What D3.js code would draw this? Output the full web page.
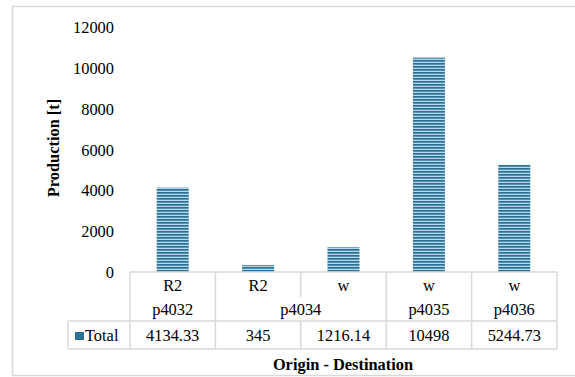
<!DOCTYPE html>
<html>
<head>
<meta charset="utf-8">
<script src="https://cdn.jsdelivr.net/npm/d3@7"></script>
<style>
  html, body { margin: 0; padding: 0; background: #fff; }
  svg { display: block; }
  svg text { font-family: "Liberation Serif", "Times New Roman", "DejaVu Serif", serif; }
</style>
</head>
<body>
<svg id="chart" width="575" height="377"></svg>
<script>
// Production by origin–destination pair
const innerLabels = ["R2", "R2", "w", "w", "w"];
const outerLabels = ["p4032", "p4034", "p4035", "p4036"];
const outerSpans = [1, 2, 1, 1];
const values = [4134.33, 345, 1216.14, 10498, 5244.73];
const seriesName = "Total";
const yTicks = [0, 2000, 4000, 6000, 8000, 10000, 12000];

const svg = d3.select("#chart");
const W = 575, H = 377;
const gridColor = "#d9d9d9";
const fontSize = 16.4;
const serif = "Liberation Serif, Times New Roman, serif";

// outer chart frame
svg.append("rect")
  .attr("x", 12.5).attr("y", 6.5)
  .attr("width", W + 10).attr("height", 369)
  .attr("fill", "#fff").attr("stroke", gridColor).attr("stroke-width", 1.5);

// striped fill for the bars
const defs = svg.append("defs");
const pat = defs.append("pattern")
  .attr("id", "stripes").attr("patternUnits", "userSpaceOnUse")
  .attr("width", 8).attr("height", 3);
pat.append("rect").attr("width", 8).attr("height", 3).attr("fill", "#b2d9ea");
pat.append("rect").attr("y", 0).attr("width", 8).attr("height", 1.7).attr("fill", "#2c7095");

const plotLeft = 130, plotRight = 557;
const baseY = 272, topY = 27;

const x = d3.scaleBand()
  .domain(d3.range(values.length))
  .range([plotLeft, plotRight])
  .paddingInner(0).paddingOuter(0);

const y = d3.scaleLinear().domain([0, 12000]).range([baseY, topY]);

// y axis labels (no axis line, no ticks)
const yAxis = d3.axisLeft(y).tickValues(yTicks).tickSize(0).tickPadding(0).tickFormat(d3.format("d"));
const yg = svg.append("g").attr("transform", "translate(114,0)").call(yAxis)
  .attr("font-family", serif).attr("font-size", fontSize);
yg.select(".domain").remove();
yg.selectAll("text").attr("fill", "#000").attr("dy", null).attr("dominant-baseline", "central");

// y axis title
svg.append("text")
  .attr("transform", "translate(53,148) rotate(-90)")
  .attr("text-anchor", "middle").attr("dominant-baseline", "central")
  .attr("font-family", serif)
  .attr("font-weight", "bold").attr("font-size", fontSize)
  .text("Production [t]");

// bars
const barW = x.bandwidth() * 0.375;
svg.append("g").selectAll("rect")
  .data(values)
  .join("rect")
  .attr("x", (d, i) => x(i) + (x.bandwidth() - barW) / 2)
  .attr("y", d => y(d))
  .attr("width", barW)
  .attr("height", d => y(0) - y(d))
  .attr("fill", "url(#stripes)");

// data table beneath the plot
const row1Y = 285, row2Y = 309, row3Y = 335;
const tableBottom = 349, valueTop = 321, legendLeft = 68;
const lines = svg.append("g").attr("stroke", gridColor).attr("stroke-width", 1.5).attr("fill", "none");

// baseline / table top
lines.append("line").attr("x1", plotLeft).attr("x2", plotRight).attr("y1", baseY).attr("y2", baseY);
lines.append("line").attr("x1", legendLeft).attr("x2", plotRight).attr("y1", valueTop).attr("y2", valueTop);
lines.append("line").attr("x1", legendLeft).attr("x2", plotRight).attr("y1", tableBottom).attr("y2", tableBottom);
lines.append("line").attr("x1", legendLeft).attr("x2", legendLeft).attr("y1", valueTop).attr("y2", tableBottom);

// vertical separators: full height at group boundaries, short inside a spanned group
const groupStarts = [];
let acc = 0;
outerSpans.forEach(s => { groupStarts.push(acc); acc += s; });
d3.range(values.length + 1).forEach(i => {
  const xp = i < values.length ? x(i) : plotRight;
  const isGroupEdge = i === values.length || groupStarts.includes(i);
  lines.append("line")
    .attr("x1", xp).attr("x2", xp)
    .attr("y1", baseY)
    .attr("y2", isGroupEdge ? tableBottom : 297);
  if (!isGroupEdge) {
    lines.append("line").attr("x1", xp).attr("x2", xp).attr("y1", valueTop).attr("y2", tableBottom);
  }
});

const txt = svg.append("g")
  .attr("font-family", serif)
  .attr("font-size", fontSize).attr("text-anchor", "middle").attr("dominant-baseline", "central").attr("fill", "#000");

// inner category row
txt.selectAll("text.inner")
  .data(innerLabels)
  .join("text").attr("class", "inner")
  .attr("x", (d, i) => x(i) + x.bandwidth() / 2)
  .attr("y", row1Y)
  .text(d => d);

// outer group row
txt.selectAll("text.outer")
  .data(outerLabels)
  .join("text").attr("class", "outer")
  .attr("x", (d, i) => {
    const start = groupStarts[i], span = outerSpans[i];
    return x(start) + x.bandwidth() * span / 2;
  })
  .attr("y", row2Y)
  .text(d => d);

// value row
txt.selectAll("text.val")
  .data(values)
  .join("text").attr("class", "val")
  .attr("x", (d, i) => x(i) + x.bandwidth() / 2)
  .attr("y", row3Y)
  .text(d => String(d));

// legend key
svg.append("rect").attr("x", 75).attr("y", 332).attr("width", 9).attr("height", 8).attr("fill", "#2c7095");
svg.append("text")
  .attr("x", 85).attr("y", row3Y)
  .attr("dominant-baseline", "central")
  .attr("font-family", serif).attr("font-size", fontSize)
  .text(seriesName);

// x axis title
svg.append("text")
  .attr("x", 343).attr("y", 364)
  .attr("text-anchor", "middle").attr("dominant-baseline", "central")
  .attr("font-family", serif)
  .attr("font-weight", "bold").attr("font-size", fontSize)
  .text("Origin - Destination");
</script>
</body>
</html>
